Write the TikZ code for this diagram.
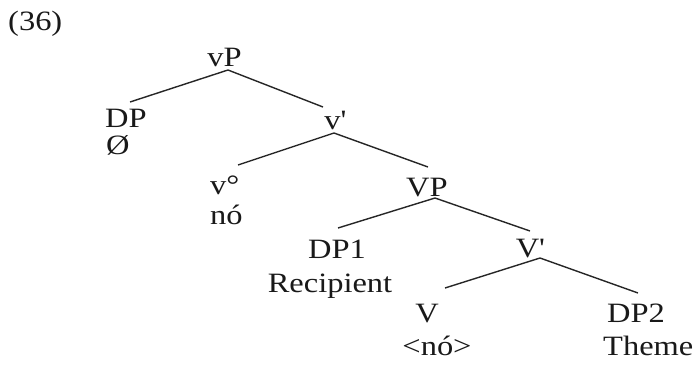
\documentclass[tikz,border=0pt]{standalone}
\usepackage{fontspec}
\setmainfont{Liberation Serif}[FakeStretch=1.16]
\begin{document}
\begin{tikzpicture}[x=1pt,y=-1pt,
  lbl/.style={inner sep=0pt,anchor=base,font=\fontsize{28}{32}\selectfont,text=black!90},
  lblw/.style={lbl,anchor=base west},
  edge/.style={line width=1.4pt,black!85}]
\useasboundingbox[fill=white] (0,0) rectangle (698,365);
\node[lblw] (ex) at (8,30) {(36)};
\node[lbl] (vP) at (224.5,66) {vP};
\node[lblw] (DP) at (105,127) {DP};
\node[lblw] (nul) at (106,154) {Ø};
\node[lbl] (vbar) at (335,129) {v\textquotesingle};
\node[lblw] (vo) at (210,194) {v°};
\node[lblw] (vno) at (210,224) {nó};
\node[lbl] (VP) at (427,196) {VP};
\node[lbl] (DP1) at (337,258) {DP1};
\node[lbl] (rec) at (330,292) {Recipient};
\node[lbl] (Vbar) at (530,257) {V\textquotesingle};
\node[lbl] (V) at (427,322) {V};
\node[lbl] (Vno) at (437,355) {<nó>};
\node[lblw] (DP2) at (607,322) {DP2};
\node[lblw] (theme) at (603,355) {Theme};
\draw[edge] ([shift={(3.5,4)}]vP.base) -- ([shift={(25,-25)}]DP.base west);
\draw[edge] ([shift={(3.5,4)}]vP.base) -- ([shift={(-12,-22)}]vbar.base);
\draw[edge] ([shift={(-1,4)}]vbar.base) -- ([shift={(28,-29)}]vo.base west);
\draw[edge] ([shift={(-1,4)}]vbar.base) -- ([shift={(1,-29)}]VP.base);
\draw[edge] ([shift={(8,2)}]VP.base) -- ([shift={(1,-30)}]DP1.base);
\draw[edge] ([shift={(8,2)}]VP.base) -- ([shift={(0,-26)}]Vbar.base);
\draw[edge] ([shift={(10,1)}]Vbar.base) -- ([shift={(18,-34)}]V.base);
\draw[edge] ([shift={(10,1)}]Vbar.base) -- ([shift={(31,-29)}]DP2.base west);
\end{tikzpicture}
\end{document}
